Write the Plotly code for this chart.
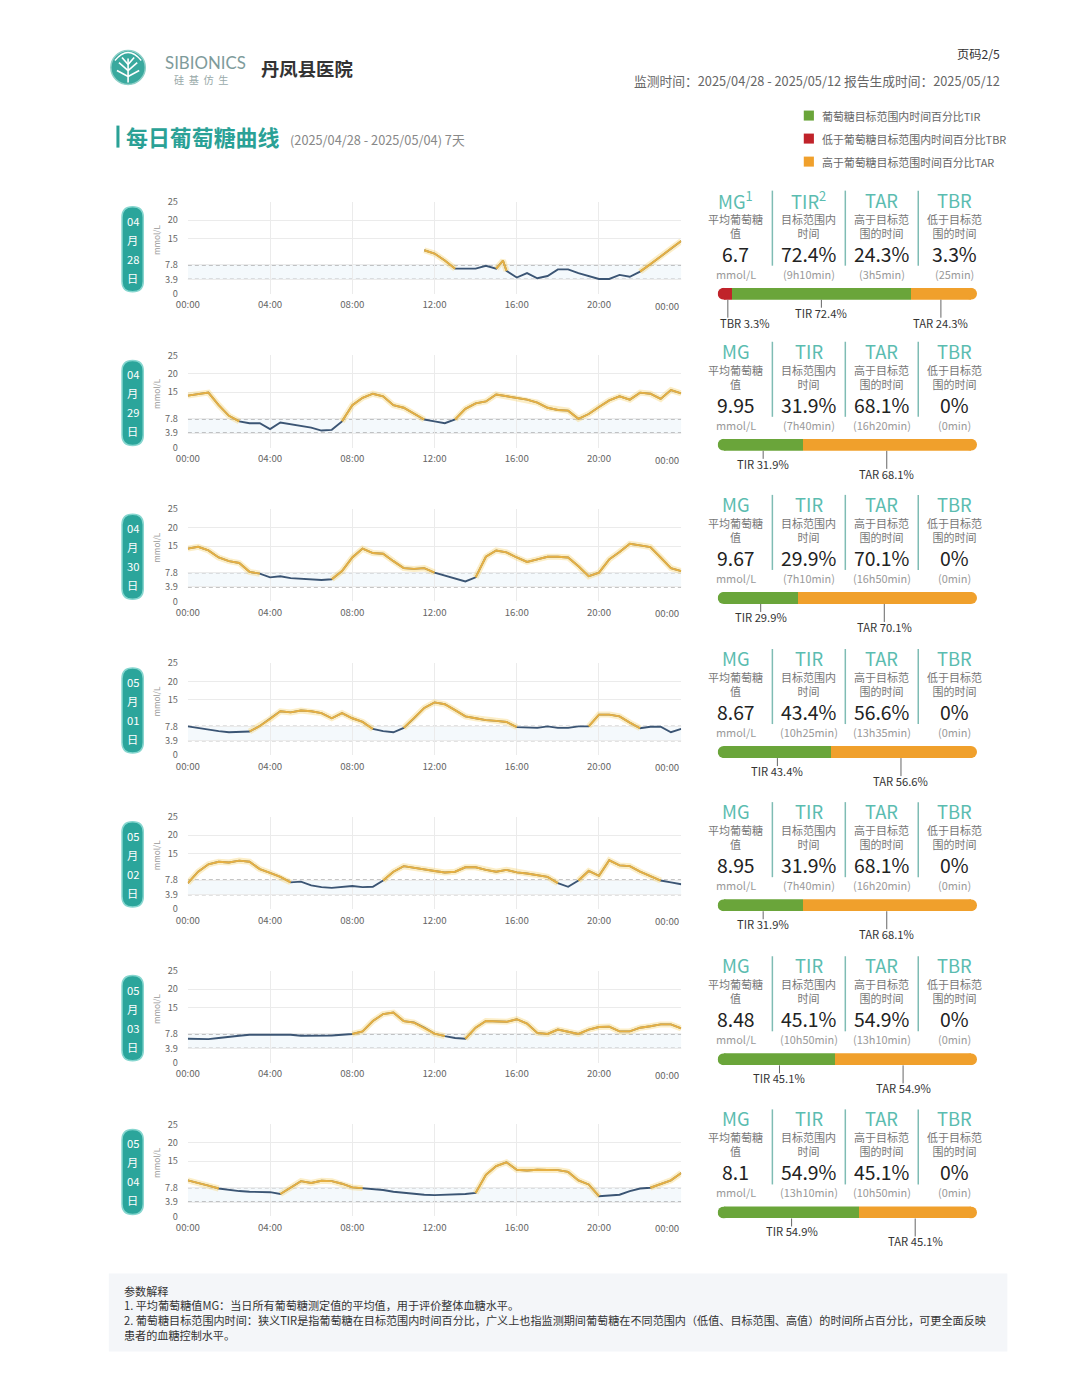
import plotly.graph_objects as go

# The page body keeps the browser's 8px margin, so the figure is sized to fit the
# 1080x1389 window. The photographed picture was measured to come out slightly
# shrunk (x' = 12.5 + 0.976x, y' = 7.6 + 0.989y), so page pixels are pre-compensated.
PAGE_W, PAGE_H, BODY_M = 1080, 1389, 8
W, H = PAGE_W - 2 * BODY_M, PAGE_H - 2 * BODY_M
SX, OX, SY, OY = 0.976, 12.5, 0.989, 7.6
FS = 1.02  # font compensation for the same shrink
FONT = "Noto Sans CJK SC, Noto Sans, sans-serif"


def px(x):
    return ((x - OX) / SX - BODY_M) / W


def py(y):
    return 1 - ((y - OY) / SY - BODY_M) / H


# ------------------------- data -------------------------
badge_month = ["04", "04", "04", "05", "05", "05", "05"]
badge_day = ["28", "29", "30", "01", "02", "03", "04"]

half_hours = [i * 0.5 for i in range(49)]
hours_0428 = [11.5, 12, 12.5, 13, 13.5, 14, 14.5, 15, 15.33, 15.5, 16, 16.5, 17, 17.5, 18, 18.5,
              19, 19.5, 20, 20.5, 21, 21.5, 22, 22.5, 23, 23.5, 24]
glucose_0428 = [11.8, 10.9, 9.0, 6.8, 6.8, 6.8, 7.6, 6.8, 9.0, 6.2, 4.4, 5.6, 4.2, 4.8, 6.6, 6.6,
                5.6, 4.9, 4.0, 4.0, 5.1, 4.6, 6.0, 8.0, 10.1, 12.3, 14.3]
glucose_0429 = [14.1, 14.4, 14.9, 11.5, 8.6, 7.1, 6.6, 6.6, 5.0, 6.8, 6.3, 5.7, 5.4, 4.6, 4.8, 7.1,
                11.5, 13.5, 14.6, 13.9, 11.5, 10.8, 9.1, 7.6, 7.1, 6.6, 7.6, 10.5, 12.0, 12.5, 14.4,
                13.9, 13.5, 13.0, 12.2, 10.8, 10.2, 10.0, 7.8, 9.1, 11.0, 12.8, 13.9, 13.0, 14.9,
                14.6, 13.2, 15.6, 14.7]
glucose_0430 = [14.3, 14.8, 13.8, 11.9, 10.9, 10.4, 8.0, 7.5, 6.5, 6.8, 6.3, 6.2, 6.0, 5.8, 6.0, 8.2,
                11.9, 14.3, 13.1, 12.9, 10.9, 9.0, 8.8, 9.0, 7.8, 7.0, 6.2, 5.4, 6.5, 12.1, 13.8,
                13.3, 11.9, 10.7, 11.4, 12.1, 12.1, 11.9, 9.5, 6.8, 7.8, 11.4, 13.4, 15.6, 15.2,
                14.7, 11.9, 9.0, 8.2]
glucose_0501 = [7.8, 7.3, 7.0, 6.5, 6.2, 6.2, 6.4, 7.9, 9.8, 11.9, 11.6, 12.1, 11.9, 11.4, 10.0, 11.4,
                10.0, 9.0, 7.1, 6.5, 6.2, 7.4, 10.0, 12.8, 14.3, 13.8, 12.2, 10.5, 10.0, 9.5, 9.3,
                9.0, 7.6, 7.6, 7.4, 7.8, 7.4, 7.4, 7.8, 7.8, 11.0, 11.0, 10.5, 8.8, 7.3, 7.7, 7.7,
                6.2, 7.1]
glucose_0502 = [7.0, 10.1, 12.1, 12.8, 12.6, 13.1, 12.8, 10.8, 9.8, 8.7, 7.2, 7.4, 6.4, 5.9, 5.7, 6.0,
                6.2, 5.9, 6.0, 7.7, 10.1, 11.6, 11.1, 10.6, 10.3, 9.9, 10.1, 11.3, 11.3, 10.6, 10.1,
                10.6, 9.9, 9.6, 9.2, 8.7, 7.0, 6.0, 7.7, 10.3, 9.0, 13.2, 11.8, 11.6, 10.1, 8.9,
                7.7, 7.2, 6.7]
glucose_0503 = [6.5, 6.4, 6.4, 6.7, 7.1, 7.3, 7.6, 7.6, 7.8, 7.8, 7.6, 7.3, 7.3, 7.4, 7.4, 7.6, 7.8,
                8.5, 11.3, 13.2, 13.6, 11.3, 10.9, 9.5, 7.9, 7.2, 6.7, 6.5, 9.5, 11.3, 11.3, 11.1,
                11.8, 10.6, 8.1, 7.8, 9.0, 8.3, 7.8, 9.0, 9.7, 9.8, 8.5, 8.5, 9.5, 9.9, 10.4, 10.4,
                9.3]
glucose_0504 = [9.8, 9.2, 8.4, 7.6, 7.2, 6.9, 6.7, 6.6, 6.6, 6.1, 7.9, 9.6, 9.1, 9.7, 9.6, 8.9, 7.9,
                7.7, 7.6, 7.2, 6.7, 6.4, 6.1, 5.9, 5.8, 5.9, 6.1, 6.1, 6.4, 11.3, 13.7, 14.7, 12.7,
                12.5, 12.7, 12.6, 12.6, 12.1, 9.8, 8.7, 5.5, 5.7, 5.9, 6.9, 7.6, 7.8, 8.9, 9.8, 11.8]

day_hours = [hours_0428] + [half_hours] * 6
day_glucose = [glucose_0428, glucose_0429, glucose_0430, glucose_0501, glucose_0502,
               glucose_0503, glucose_0504]

mg_values = ["6.7", "9.95", "9.67", "8.67", "8.95", "8.48", "8.1"]
tir_pct = [72.4, 31.9, 29.9, 43.4, 31.9, 45.1, 54.9]
tar_pct = [24.3, 68.1, 70.1, 56.6, 68.1, 54.9, 45.1]
tbr_pct = [3.3, 0, 0, 0, 0, 0, 0]
tir_time = ["9h10min", "7h40min", "7h10min", "10h25min", "7h40min", "10h50min", "13h10min"]
tar_time = ["3h5min", "16h20min", "16h50min", "13h35min", "16h20min", "13h10min", "10h50min"]
tbr_time = ["25min", "0min", "0min", "0min", "0min", "0min", "0min"]

x_tick_vals = [0, 4, 8, 12, 16, 20, 24]
x_tick_text = ["00:00", "04:00", "08:00", "12:00", "16:00", "20:00", ""]
x_end_label = "00:00"  # last tick label sits inside the plot's right edge
y_tick_vals = [0, 3.9, 7.8, 15, 20, 25]
y_tick_text = ["0", "3.9", "7.8", "15", "20", "25"]
TARGET_LOW, TARGET_HIGH = 3.9, 7.8

# ------------------------- styles -------------------------
NAVY = "#3b5574"
GOLD = "#e6b043"
GLOW = "rgba(247,205,95,0.35)"
TEAL = "#2aa196"
TEAL_LIGHT = "#5bbcb0"
GREEN = "#6aa53a"
RED = "#c0232a"
ORANGE = "#f0a02c"
GRAY_T = "#777777"

fig = go.Figure()
shapes = []
annotations = []
layout = dict(width=W, height=H, margin=dict(l=0, r=0, t=0, b=0, pad=0),
              paper_bgcolor="white", plot_bgcolor="rgba(0,0,0,0)", showlegend=False,
              barmode="stack", font=dict(family=FONT, color="#333"), hovermode=False)


def ann(x, y, text, size=10, color="#333", xanchor="center", yanchor="middle", **kw):
    d = dict(x=px(x), y=py(y), xref="paper", yref="paper", text=text, showarrow=False,
             font=dict(size=size * FS, color=color, family=kw.pop("family", FONT)),
             xanchor=xanchor, yanchor=yanchor)
    d.update(kw)
    annotations.append(d)


def rect(x0, y0, x1, y1, fill, line=None, layer="below"):
    shapes.append(dict(type="rect", xref="paper", yref="paper", x0=px(x0), x1=px(x1),
                       y0=py(y1), y1=py(y0), fillcolor=fill,
                       line=dict(width=0) if line is None else line, layer=layer))


def rounded_path(x0, y0, x1, y1, r):
    pts = [("M", [(x0 + r, y0)]), ("L", [(x1 - r, y0)]), ("Q", [(x1, y0), (x1, y0 + r)]),
           ("L", [(x1, y1 - r)]), ("Q", [(x1, y1), (x1 - r, y1)]), ("L", [(x0 + r, y1)]),
           ("Q", [(x0, y1), (x0, y1 - r)]), ("L", [(x0, y0 + r)]), ("Q", [(x0, y0), (x0 + r, y0)])]
    s = ""
    for cmd, ps in pts:
        s += cmd + " " + " ".join(f"{px(a):.5f},{py(b):.5f}" for a, b in ps) + " "
    return s + "Z"


# ------------------------- header -------------------------
shapes.append(dict(type="circle", xref="paper", yref="paper", x0=px(110), x1=px(144),
                   y0=py(84), y1=py(50), fillcolor="#3aa99e", line=dict(color="#8fd0c8", width=1.5)))
tree = [((127, 82), (127, 58)), ((127, 70), (118, 62)), ((127, 70), (136, 62)),
        ((127, 76), (116, 70)), ((127, 76), (138, 70)), ((127, 64), (121, 57)), ((127, 64), (133, 57))]
for (a, b), (c, d) in tree:
    shapes.append(dict(type="line", xref="paper", yref="paper", x0=px(a), y0=py(b), x1=px(c), y1=py(d),
                       line=dict(color="white", width=1.6)))
shapes.append(dict(type="path", xref="paper", yref="paper",
                   path=f"M {px(114)},{py(60)} Q {px(127)},{py(44)} {px(140)},{py(60)}",
                   line=dict(color="white", width=1.4)))
ann(161, 62, "SIBIONICS", size=16.5, color="#7e9b9b", xanchor="left", family="Lato, Noto Sans, sans-serif")
ann(170, 79, "硅  基  仿  生", size=10, color="#9aa", xanchor="left")
ann(256, 67, "<b>丹凤县医院</b>", size=18, color="#333", xanchor="left")
ann(990, 53, "页码2/5", size=12, color="#333", xanchor="right")
ann(990, 80, "监测时间：2025/04/28 - 2025/05/12 报告生成时间：2025/05/12", size=12.5, color="#666",
    xanchor="right")

# title
rect(115.5, 125, 118.5, 147, TEAL)
ann(123, 136, "<b>每日葡萄糖曲线</b>", size=21.5, color=TEAL, xanchor="left")
ann(285, 139, "(2025/04/28 - 2025/05/04) 7天", size=12.5, color="#888", xanchor="left")

# legend
legend_items = [(GREEN, "葡萄糖目标范围内时间百分比TIR"), (RED, "低于葡萄糖目标范围内时间百分比TBR"),
                (ORANGE, "高于葡萄糖目标范围时间百分比TAR")]
for i, (c, t) in enumerate(legend_items):
    yc = 115 + 23 * i
    rect(794, yc - 5, 804, yc + 5, c)
    ann(810, yc, t, size=10.7, color="#666", xanchor="left")

# ------------------------- rows -------------------------
ROW_DY = 153.67
STAT_TOP = [199, 350, 503, 657, 810, 964, 1117]
BAR_L, BAR_R, BAR_RAD = 709, 965, 6
CAP = BAR_RAD * 100 / (BAR_R - BAR_L - 2 * BAR_RAD)  # cap radius in bar-axis units

for k in range(7):
    dy = ROW_DY * k
    n = k + 1
    sx = "" if n == 1 else str(n)
    top, bottom = 201 + dy, 293 + dy

    # glucose axes
    layout["xaxis" + sx] = dict(domain=[px(186), px(673)], range=[0, 24], anchor="y" + sx,
                                tickvals=x_tick_vals, ticktext=x_tick_text, showgrid=True,
                                gridcolor="#ebebeb", gridwidth=1, zeroline=False, showline=False,
                                tickfont=dict(size=9.5 * FS, color="#666"), ticklabelstandoff=4,
                                fixedrange=True)
    layout["yaxis" + sx] = dict(domain=[py(bottom), py(top)], range=[0, 25], anchor="x" + sx,
                                tickvals=y_tick_vals, ticktext=y_tick_text, showgrid=True,
                                gridcolor="#ebebeb", gridwidth=1, zeroline=False, showline=False,
                                tickfont=dict(size=9 * FS, color="#666"), ticklabelstandoff=9,
                                fixedrange=True)
    xr, yr = "x" + sx, "y" + sx
    annotations.append(dict(x=x_tick_vals[-1], y=py(bottom + 12), xref=xr, yref="paper",
                            text=x_end_label, showarrow=False, xanchor="right", yanchor="middle",
                            font=dict(size=9.5 * FS, color="#666", family=FONT)))
    shapes.append(dict(type="rect", xref=xr, yref=yr, x0=0, x1=24, y0=TARGET_LOW, y1=TARGET_HIGH,
                       fillcolor="rgba(228,239,248,0.4)", line=dict(width=0), layer="below"))
    for lvl in (TARGET_LOW, TARGET_HIGH):
        shapes.append(dict(type="line", xref=xr, yref=yr, x0=0, x1=24, y0=lvl, y1=lvl,
                           line=dict(color="#8c8c8c", width=1.2, dash="4px,3px"), layer="below"))

    hrs, vals = day_hours[k], day_glucose[k]
    fig.add_trace(go.Scatter(x=hrs, y=vals, mode="lines", line=dict(color=NAVY, width=1.9),
                             xaxis=xr, yaxis=yr, hoverinfo="skip"))
    high = []
    for i, v in enumerate(vals):
        near = [vals[j] for j in (i - 1, i, i + 1) if 0 <= j < len(vals)]
        high.append(v if any(u > TARGET_HIGH for u in near) else None)
    fig.add_trace(go.Scatter(x=hrs, y=high, mode="lines", line=dict(color=GLOW, width=6),
                             xaxis=xr, yaxis=yr, hoverinfo="skip", connectgaps=False))
    fig.add_trace(go.Scatter(x=hrs, y=high, mode="lines", line=dict(color=GOLD, width=1.9),
                             xaxis=xr, yaxis=yr, hoverinfo="skip", connectgaps=False))

    # mmol/L label
    ann(155, 239 + dy, "mmol/L", size=8, color="#999", textangle=-90)

    # date badge
    shapes.append(dict(type="path", xref="paper", yref="paper",
                       path=rounded_path(121, 206 + dy, 142, 291 + dy, 10.5),
                       fillcolor="#2ba59b", line=dict(color="#86d6cf", width=1.5)))
    for t, yy in zip([badge_month[k], "月", badge_day[k], "日"], [220, 239, 258, 277]):
        ann(131.5, yy + dy, t, size=11, color="white")

    # ---- stats panel ----
    st = STAT_TOP[k]
    heads = ["MG<sup>1</sup>", "TIR<sup>2</sup>", "TAR", "TBR"] if k == 0 else ["MG", "TIR", "TAR", "TBR"]
    subs = ["平均葡萄糖<br>值", "目标范围内<br>时间", "高于目标范<br>围的时间", "低于目标范<br>围的时间"]
    values = [mg_values[k], f"{tir_pct[k]:g}%", f"{tar_pct[k]:g}%", f"{tbr_pct[k]:g}%"]
    units = ["mmol/L", f"({tir_time[k]})", f"({tar_time[k]})", f"({tbr_time[k]})"]
    for c, cx in enumerate([727, 799, 871, 943]):
        ann(cx, st, heads[c], size=18, color=TEAL_LIGHT)
        ann(cx, st + 26, subs[c], size=10.8, color=GRAY_T)
        ann(cx, st + 54, values[c], size=19, color="#222")
        ann(cx, st + 74, units[c], size=10.7, color="#999")
    for sxp in (763, 835, 907):
        shapes.append(dict(type="line", xref="paper", yref="paper", x0=px(sxp), x1=px(sxp),
                           y0=py(st - 9), y1=py(st + 66), line=dict(color="#7fbcb4", width=1.5)))

    # ---- stacked bar ----
    by = st + 94
    bn = str(8 + k)
    bx, byr = "x" + bn, "y" + bn
    layout["xaxis" + bn] = dict(domain=[px(BAR_L), px(BAR_R)], range=[-CAP, 100 + CAP],
                                anchor="y" + bn, visible=False, fixedrange=True)
    layout["yaxis" + bn] = dict(domain=[py(by + BAR_RAD), py(by - BAR_RAD)], range=[-0.5, 0.5],
                                anchor="x" + bn, visible=False, fixedrange=True)
    segs = [(tbr_pct[k], RED, "TBR"), (tir_pct[k], GREEN, "TIR"), (tar_pct[k], ORANGE, "TAR")]
    nz = [s for s in segs if s[0] > 0]
    for cx_, col in ((0, nz[0][1]), (100, nz[-1][1])):
        shapes.append(dict(type="circle", xref=bx, yref=byr, x0=cx_ - CAP, x1=cx_ + CAP,
                           y0=-0.5, y1=0.5, fillcolor=col, line=dict(width=0), layer="below"))
    for val, col, name in segs:
        fig.add_trace(go.Bar(x=[val], y=[0], orientation="h", width=1,
                             marker=dict(color=col, line=dict(width=0)),
                             xaxis=bx, yaxis=byr, hoverinfo="skip"))
    start = 0
    half_w = 28 * 100 / (BAR_R - BAR_L - 2 * BAR_RAD)
    for val, col, name in segs:
        if val > 0:
            cen = start + val / 2
            drop = 19 if name == "TIR" else 29
            shapes.append(dict(type="line", xref=bx, yref="paper", x0=cen, x1=cen,
                               y0=py(by + BAR_RAD), y1=py(by + drop - 5),
                               line=dict(color="#666", width=1)))
            xa, xanc = cen, "center"
            if cen - half_w < -CAP:
                xa, xanc = -CAP, "left"
            elif cen + half_w > 100 + CAP:
                xa, xanc = 100 + CAP, "right"
            annotations.append(dict(x=xa, y=py(by + drop), xref=bx, yref="paper",
                                    text=f"{name} {val:g}%", showarrow=False,
                                    font=dict(size=11 * FS, color="#333", family=FONT),
                                    xanchor=xanc, yanchor="middle"))
        start += val

# ------------------------- footer -------------------------
rect(108, 1272, 995, 1350, "#f4f6f9")
ann(121, 1289, "参数解释", size=10.9, color="#333", xanchor="left")
ann(121, 1303, "1. 平均葡萄糖值MG：当日所有葡萄糖测定值的平均值，用于评价整体血糖水平。", size=10.9,
    color="#333", xanchor="left")
ann(121, 1318, "2. 葡萄糖目标范围内时间：狭义TIR是指葡萄糖在目标范围内时间百分比，广义上也指监测期间葡萄糖在不同范围内"
              "（低值、目标范围、高值）的时间所占百分比，可更全面反映", size=10.9, color="#333", xanchor="left")
ann(121, 1333, "患者的血糖控制水平。", size=10.9, color="#333", xanchor="left")

layout["shapes"] = shapes
layout["annotations"] = annotations
fig.update_layout(**layout)
fig.write_html("out.html", config={"displayModeBar": False})
